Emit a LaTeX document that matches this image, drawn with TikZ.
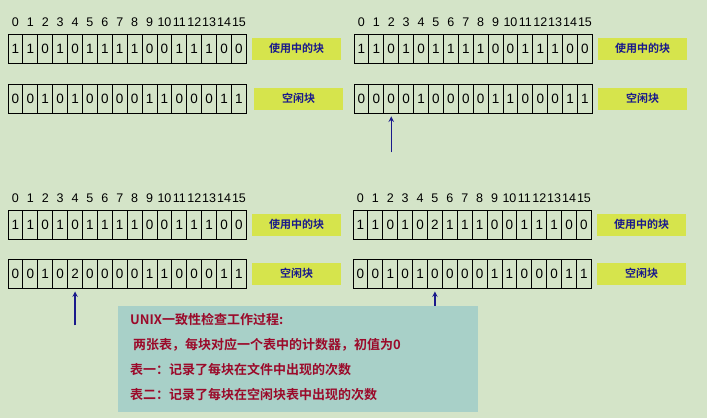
\documentclass[tikz,border=0pt]{standalone}
\usepackage{fontspec}
\setsansfont{Liberation Sans}
\newfontfamily\cjk{Noto Sans CJK SC}[BoldFont={Noto Sans CJK SC Bold}]
\usetikzlibrary{positioning}
\definecolor{bgc}{HTML}{D4E4C8}
\definecolor{tagc}{HTML}{D6E44C}
\definecolor{boxc}{HTML}{A8D0C8}
\definecolor{redc}{HTML}{9B0A2A}
\definecolor{bluec}{HTML}{1A1A8C}
\tikzset{
  cell/.style={draw, line width=0.9pt, minimum width=14.9pt, minimum height=29pt,
       inner sep=0pt, font=\sffamily\fontsize{13.5}{13.5}\selectfont},
  idx/.style={font=\sffamily\fontsize{12.5}{12.5}\selectfont, inner sep=0pt},
  tag/.style={fill=tagc, minimum width=89pt, minimum height=22pt, inner sep=0pt,
       text=bluec, font=\cjk\bfseries\fontsize{11}{11}\selectfont},
  uparrow/.style={draw=bluec, line width=1.4pt, ->, >=stealth}
}
% one row of 16 cells: prefix, left x, top y, digits
\newcommand{\blockrow}[4]{
  \foreach \d [count=\i from 0] in {#4}
    \node[cell] (#1\i) at ({#2+7.45+\i*14.9}, {#3+14.5}) {\d};
}
\newcommand{\indexrow}[3]{
  \foreach \i in {0,...,15}
    \node[idx] (#1\i) at ({#2+7.45+\i*14.9}, #3) {\i};
}
\begin{document}
\begin{tikzpicture}[x=1pt, y=-1pt]
\fill[bgc] (0,0) rectangle (707,418);
\useasboundingbox (0,0) rectangle (707,418);

% top left
\indexrow{ia}{8}{22}
\blockrow{ua}{8}{34}{1,1,0,1,0,1,1,1,1,0,0,1,1,1,0,0}
\blockrow{fa}{8}{84}{0,0,1,0,1,0,0,0,0,1,1,0,0,0,1,1}
\node[tag, right=5pt of ua15] (ta) {使用中的块};
\node[tag, right=7pt of fa15] (sa) {空闲块};

% top right
\indexrow{ib}{354}{22}
\blockrow{ub}{354}{34}{1,1,0,1,0,1,1,1,1,0,0,1,1,1,0,0}
\blockrow{fb}{354}{84}{0,0,0,0,1,0,0,0,0,1,1,0,0,0,1,1}
\node[tag, right=5pt of ub15] (tb) {使用中的块};
\node[tag, right=5pt of fb15] (sb) {空闲块};
\coordinate (pb) at ([yshift=-39pt]fb2.south);
\draw[uparrow] (pb) -- ([yshift=-3pt]fb2.south);

% bottom left
\indexrow{ic}{8}{198}
\blockrow{uc}{8}{210}{1,1,0,1,0,1,1,1,1,0,0,1,1,1,0,0}
\blockrow{fc}{8}{259}{0,0,1,0,2,0,0,0,0,1,1,0,0,0,1,1}
\node[tag, right=5pt of uc15] (tc) {使用中的块};
\node[tag, right=5pt of fc15] (sc) {空闲块};
\coordinate (pc) at ([yshift=-37pt]fc4.south);
\draw[uparrow] (pc) -- ([yshift=-3pt]fc4.south);

% bottom right
\indexrow{id}{353}{198}
\blockrow{ud}{353}{210}{1,1,0,1,0,2,1,1,1,0,0,1,1,1,0,0}
\blockrow{fd}{353}{259}{0,0,1,0,1,0,0,0,0,1,1,0,0,0,1,1}
\node[tag, right=5pt of ud15] (td) {使用中的块};
\node[tag, right=5pt of fd15] (sd) {空闲块};
\coordinate (pd) at ([yshift=-37pt]fd5.south);
\draw[uparrow] (pd) -- ([yshift=-3pt]fd5.south);

% note box
\node[fill=boxc, minimum width=360pt, minimum height=106pt, anchor=north west,
      inner sep=0pt] (note) at (118,306) {};
\node[anchor=north west, text=redc, align=left, inner sep=0pt,
      font=\cjk\bfseries\fontsize{13}{25}\selectfont] (notetext) at (130,313)
  {UNIX一致性检查工作过程:\\
   \ 两张表，每块对应一个表中的计数器，初值为0\\
   表一：记录了每块在文件中出现的次数\\
   表二：记录了每块在空闲块表中出现的次数};
\end{tikzpicture}
\end{document}
